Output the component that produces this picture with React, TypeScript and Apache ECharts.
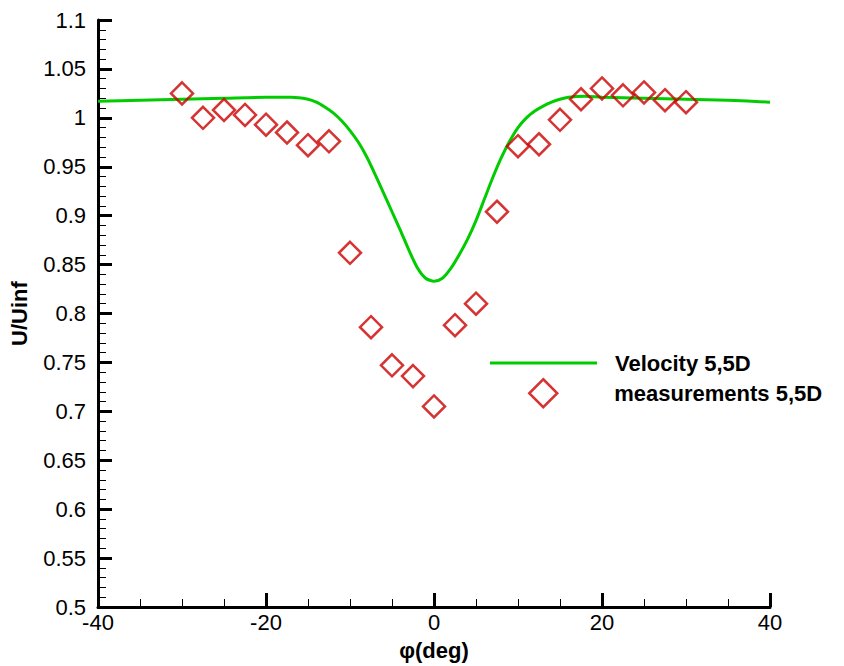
import React, { useEffect, useRef } from "react";
import * as echarts from "echarts";

const lineX = [-40, -35, -30, -25, -20, -17, -15, -14, -13, -12, -11, -10, -9, -8, -7, -6, -5, -4, -3, -2, -1, 0, 1, 2, 3, 4, 5, 6, 7, 8, 9, 10, 11, 12, 13, 14, 15, 16, 18, 20, 25, 30, 35, 40];
const lineY = [1.017, 1.018, 1.019, 1.02, 1.021, 1.021, 1.019, 1.016, 1.011, 1.005, 0.997, 0.987, 0.975, 0.96, 0.942, 0.923, 0.904, 0.885, 0.865, 0.847, 0.836, 0.833, 0.836, 0.846, 0.86, 0.876, 0.895, 0.917, 0.939, 0.959, 0.976, 0.99, 1.0, 1.007, 1.012, 1.016, 1.019, 1.021, 1.022, 1.021, 1.02, 1.019, 1.018, 1.016];

const measX = [-30, -27.5, -25, -22.5, -20, -17.5, -15, -12.5, -10, -7.5, -5, -2.5, 0, 2.5, 5, 7.5, 10, 12.5, 15, 17.5, 20, 22.5, 25, 27.5, 30];
const measY = [1.025, 1.0, 1.008, 1.003, 0.993, 0.985, 0.972, 0.976, 0.862, 0.786, 0.747, 0.736, 0.705, 0.788, 0.81, 0.904, 0.971, 0.973, 0.998, 1.019, 1.03, 1.023, 1.026, 1.018, 1.016];

const lineName = "Velocity 5,5D";
const measName = "measurements 5,5D";

export default function App() {
  const ref = useRef<HTMLDivElement>(null);
  useEffect(() => {
    if (!ref.current) return;
    const chart = echarts.init(ref.current, null, { renderer: "svg" });
    const font = "Liberation Sans";
    const lineData = lineX.map((x, i) => [x, lineY[i]]);
    const measData = measX.map((x, i) => [x, measY[i]]);
    chart.setOption({
      animation: false,
      backgroundColor: "#ffffff",
      grid: { left: 96, right: 74, top: 20, bottom: 59, containLabel: false },
      xAxis: {
        type: "value",
        min: -40,
        max: 40,
        interval: 20,
        name: "φ(deg)",
        nameLocation: "middle",
        nameGap: 32,
        nameTextStyle: { fontFamily: font, fontSize: 22, fontWeight: "bold", color: "#000" },
        axisLine: { show: true, onZero: false, lineStyle: { color: "#000", width: 3 } },
        axisTick: { show: true, inside: true, length: 14, lineStyle: { color: "#000", width: 3 } },
        minorTick: { show: true, splitNumber: 4, length: 8, lineStyle: { color: "#000", width: 1 } },
        axisLabel: { fontFamily: font, fontSize: 22, color: "#000", margin: 4 },
        splitLine: { show: false },
      },
      yAxis: {
        type: "value",
        min: 0.5,
        max: 1.1,
        interval: 0.05,
        name: "U/Uinf",
        nameLocation: "middle",
        nameGap: 68,
        nameTextStyle: { fontFamily: font, fontSize: 22, fontWeight: "bold", color: "#000" },
        axisLine: { show: true, onZero: false, lineStyle: { color: "#000", width: 3 } },
        axisTick: { show: true, inside: true, length: 14, lineStyle: { color: "#000", width: 3 } },
        minorTick: { show: true, splitNumber: 5, length: 8, lineStyle: { color: "#000", width: 1 } },
        axisLabel: {
          fontFamily: font,
          fontSize: 22,
          color: "#000",
          margin: 12,
          formatter: (v: number) => String(parseFloat(v.toFixed(2))),
        },
        splitLine: { show: false },
      },
      legend: [
        {
          data: [{ name: lineName, icon: "rect" }],
          orient: "vertical",
          left: 490,
          top: 352,
          padding: 0,
          itemWidth: 107,
          itemHeight: 3,
          itemStyle: { color: "#00cc00" },
          textStyle: { fontFamily: font, fontSize: 22, fontWeight: "bold", color: "#000", padding: [0, 0, 0, 13] },
          selectedMode: false,
        },
        {
          data: [{ name: measName, icon: "diamond" }],
          orient: "vertical",
          left: 528,
          top: 378,
          padding: 0,
          itemWidth: 28,
          itemHeight: 28,
          itemStyle: { color: "transparent", borderColor: "#cc0000", borderWidth: 2.5 },
          textStyle: { fontFamily: font, fontSize: 22, fontWeight: "bold", color: "#000", padding: [0, 0, 0, 52] },
          selectedMode: false,
        },
      ],
      series: [
        {
          name: lineName,
          type: "line",
          data: lineData,
          smooth: 0.25,
          symbol: "none",
          lineStyle: { color: "#00cc00", width: 3 },
          itemStyle: { color: "#00cc00" },
          z: 2,
        },
        {
          name: measName,
          type: "scatter",
          data: measData,
          symbol: "diamond",
          symbolSize: [22, 22],
          itemStyle: { color: "transparent", borderColor: "#cc0000", borderWidth: 2.5 },
          z: 3,
        },
      ],
    });
    return () => chart.dispose();
  }, []);
  return <div ref={ref} style={{ width: 844, height: 666, position: "absolute", left: 0, top: 0 }} />;
}
